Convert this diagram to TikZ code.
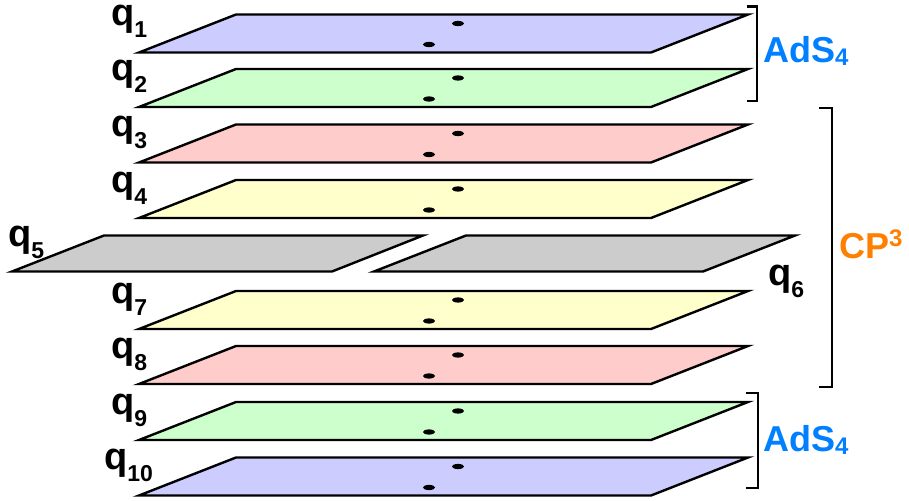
\documentclass[tikz,border=0pt]{standalone}
\usepackage{fontspec}
\setmainfont{Liberation Sans}
\definecolor{pblue}{RGB}{204,204,255}
\definecolor{pgreen}{RGB}{204,255,204}
\definecolor{ppink}{RGB}{255,204,204}
\definecolor{pyellow}{RGB}{255,255,204}
\definecolor{pgray}{RGB}{204,204,204}
\definecolor{adsblue}{RGB}{0,128,255}
\definecolor{cporange}{RGB}{255,128,0}
\newcommand\qlab[1]{{\fontsize{38}{38}\selectfont\bfseries q}\raisebox{-12pt}{\fontsize{23}{23}\selectfont\bfseries #1}}
\tikzset{
  sheet/.style={draw=black, line width=2.4pt, line join=miter},
  dotmark/.style={fill=black},
  brk/.style={draw=black, line width=2.2pt},
  qlabel/.style={inner sep=0pt, anchor=base west},
  spacelabel/.style={inner sep=0pt, anchor=base west, font=\fontsize{36}{36}\selectfont\bfseries}
}
\begin{document}
\begin{tikzpicture}[x=1pt,y=-1pt]
\useasboundingbox (0,0) rectangle (909,500);
% full planes
\foreach \t/\c in {14.5/pblue, 69/pgreen, 124.5/ppink, 180/pyellow, 291/pyellow, 346/ppink, 402/pgreen, 457.5/pblue}{
  \path[sheet, fill=\c] (236,\t) -- (748,\t) -- (651,\t+38) -- (139,\t+38) -- cycle;
  \fill[dotmark] (458,\t+9) ellipse (6pt and 2.6pt);
  \fill[dotmark] (429,\t+30) ellipse (6pt and 2.6pt);
}
% split planes
\path[sheet, fill=pgray] (104,235.5) -- (423,235.5) -- (332,271.5) -- (12,271.5) -- cycle;
\path[sheet, fill=pgray] (466,235.5) -- (795,235.5) -- (703,271.5) -- (374,271.5) -- cycle;
% labels
\node[qlabel] (q1) at (111,25.5) {\qlab{1}};
\node[qlabel] (q2) at (111,81) {\qlab{2}};
\node[qlabel] (q3) at (111,136.5) {\qlab{3}};
\node[qlabel] (q4) at (111,192) {\qlab{4}};
\node[qlabel] (q5) at (8,246) {\qlab{5}};
\node[qlabel] (q6) at (768,285) {\qlab{6}};
\node[qlabel] (q7) at (111,303) {\qlab{7}};
\node[qlabel] (q8) at (111,358.5) {\qlab{8}};
\node[qlabel] (q9) at (111,414) {\qlab{9}};
\node[qlabel] (q10) at (104,469.5) {\qlab{10}};
% brackets
\draw[brk] (747,6.5) -- (757,6.5) -- (757,101) -- (747,101);
\draw[brk] (819,108) -- (832,108) -- (832,387) -- (819,387);
\draw[brk] (746,393) -- (758,393) -- (758,488) -- (746,488);
% space labels
\node[spacelabel, text=adsblue] (ads1) at (763,63) {AdS\raisebox{-3pt}{\fontsize{24}{24}\selectfont 4}};
\node[spacelabel, text=cporange] (cp) at (839,258) {CP\raisebox{12pt}{\fontsize{24}{24}\selectfont 3}};
\node[spacelabel, text=adsblue] (ads2) at (763,451) {AdS\raisebox{-3pt}{\fontsize{24}{24}\selectfont 4}};
\end{tikzpicture}
\end{document}
